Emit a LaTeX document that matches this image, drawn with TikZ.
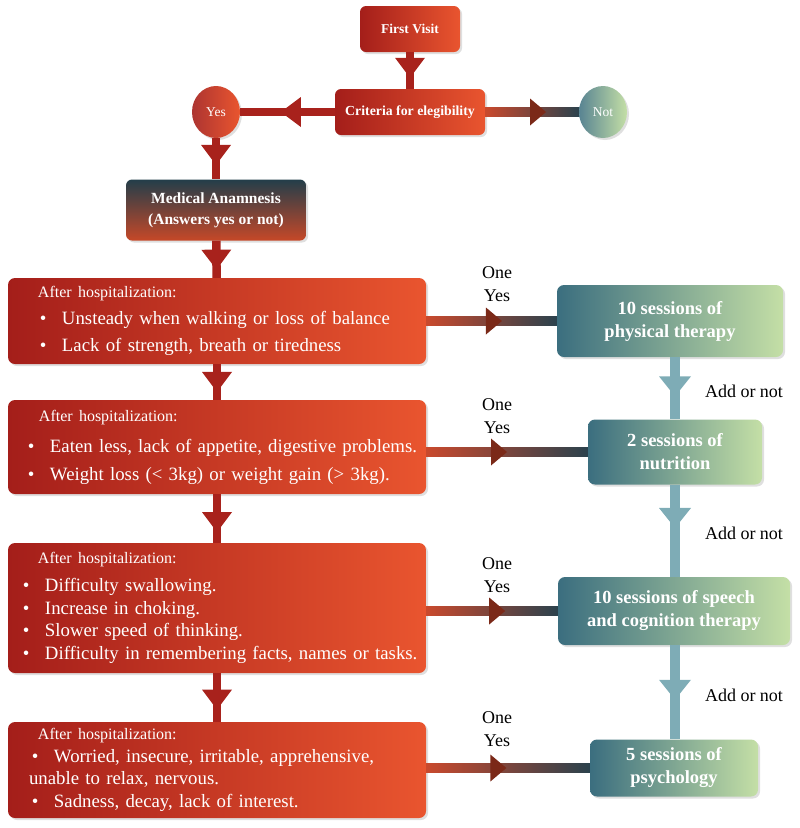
\documentclass[tikz,border=0pt]{standalone}
\usepackage{fontspec}
\setmainfont{Liberation Serif}
\usetikzlibrary{shapes.geometric, arrows.meta, decorations.markings, shadows, calc}

\definecolor{boxred}{HTML}{A41E1A}
\definecolor{boxorange}{HTML}{E9552F}
\definecolor{tealdark}{HTML}{3B6E7F}
\definecolor{teallight}{HTML}{C4DFA6}
\definecolor{slate}{HTML}{233E4A}
\definecolor{arrowred}{HTML}{A8221C}
\definecolor{arrowteal}{HTML}{7EACB6}
\definecolor{arrowbrown}{HTML}{7B2918}
\definecolor{linkred}{HTML}{C9492D}
\definecolor{linkslate}{HTML}{2B424D}

\tikzstyle{redbox} = [rectangle, rounded corners=7pt, left color=boxred, right color=boxorange, text=white, inner xsep=0pt, inner ysep=0pt, align=left, drop shadow={opacity=0.25, shadow xshift=2pt, shadow yshift=-2pt}]
\tikzstyle{title} = [rectangle, rounded corners=6pt, left color=boxred, right color=boxorange, text=white, align=center, font=\bfseries, drop shadow={opacity=0.25, shadow xshift=2pt, shadow yshift=-2pt}]
\tikzstyle{anambox} = [rectangle, rounded corners=6pt, top color=slate, bottom color=boxorange!85!black, text=white, align=center, drop shadow={opacity=0.25, shadow xshift=2pt, shadow yshift=-2pt}]
\tikzstyle{tealbox} = [rectangle, rounded corners=7pt, left color=tealdark, right color=teallight, text=white, align=center, font=\fontsize{18.5}{23}\selectfont\bfseries, drop shadow={opacity=0.25, shadow xshift=2pt, shadow yshift=-2pt}]
\tikzstyle{yesno} = [ellipse, minimum width=48pt, minimum height=52pt, inner sep=0pt, text=white, font=\fontsize{13.5}{16}\selectfont, drop shadow={opacity=0.25, shadow xshift=2pt, shadow yshift=-2pt}]
\tikzstyle{lbl} = [align=center, font=\fontsize{18}{23}\selectfont]

\tikzset{
  redarrow/.style={line width=8.5pt, draw=arrowred, decoration={markings, mark=at position #1 with {\arrow{Triangle[width=30pt, length=20pt, line width=0pt]}}}, postaction=decorate},
  tealarrow/.style={line width=9.5pt, draw=arrowteal, decoration={markings, mark=at position #1 with {\arrow{Triangle[width=32pt, length=20pt, line width=0pt]}}}, postaction=decorate}
}

\newcommand{\hdr}[2]{{\fontsize{16}{19}\selectfont\hspace*{#1}#2}}
\newcommand{\bitem}[2]{\hspace*{#1}\makebox[22pt][l]{\textbullet}#2}
\newcommand{\gradlink}[3]{%
  \shade[left color=linkred, right color=linkslate] ($(#1.east |- #2.west)+(0,-4.25)$) rectangle ($(#2.west)+(0,4.25)$);
  \path[decoration={markings, mark=at position #3 with {\fill[arrowbrown] (0pt,0pt) -- (-16pt,13.5pt) -- (-16pt,-13.5pt) -- cycle;}}, decorate] (#1.east |- #2.west) -- (#2.west);
}

\begin{document}
\begin{tikzpicture}[x=1pt, y=-1pt]

\useasboundingbox (0,0) rectangle (800,828);

\node (visit) [title, minimum width=100pt, minimum height=46pt, font=\fontsize{13.5}{16}\selectfont\bfseries] at (410,29) {First Visit};
\node (crit) [title, minimum width=150pt, minimum height=46pt, font=\fontsize{13.8}{16}\selectfont\bfseries] at (410,112) {Criteria for elegibility};
\node (yes) [yesno, left color=boxred!90!white, right color=boxorange] at (216,112) {Yes};
\node (not) [yesno, left color=tealdark!85!white, right color=teallight] at (603,112) {Not};
\node (anam) [anambox, minimum width=180pt, minimum height=61pt, font=\fontsize{15.5}{21}\selectfont\bfseries] at (216,210) {Medical Anamnesis\\(Answers yes or not)};

\node (hosp1) [redbox, text width=418pt, minimum height=86pt, font=\fontsize{18.8}{27}\selectfont] at (217,321) {%
\hdr{30pt}{After hospitalization:}\\
\bitem{32pt}{Unsteady when walking or loss of balance}\\
\bitem{32pt}{Lack of strength, breath or tiredness}};
\node (hosp2) [redbox, text width=418pt, minimum height=94pt, font=\fontsize{18.8}{28}\selectfont] at (217,447) {%
\hdr{31pt}{After hospitalization:}\\[3pt]
\bitem{20pt}{Eaten less, lack of appetite, digestive problems.}\\
\bitem{20pt}{Weight loss (< 3kg) or weight gain (> 3kg).}};
\node (hosp3) [redbox, text width=418pt, minimum height=130pt, font=\fontsize{18.8}{22.6}\selectfont] at (217,608) {%
\hdr{30pt}{After hospitalization:}\\[5.4pt]
\bitem{15pt}{Difficulty swallowing.}\\
\bitem{15pt}{Increase in choking.}\\
\bitem{15pt}{Slower speed of thinking.}\\
\bitem{15pt}{Difficulty in remembering facts, names or tasks.}};
\node (hosp4) [redbox, text width=418pt, minimum height=96pt, font=\fontsize{18.8}{22.7}\selectfont] at (217,770) {%
\hdr{30pt}{After hospitalization:}\\
\bitem{24pt}{Worried, insecure, irritable, apprehensive,}\\
\hspace*{21pt}unable to relax, nervous.\\
\bitem{24pt}{Sadness, decay, lack of interest.}};

\node (phys) [tealbox, minimum width=226pt, minimum height=72pt] at (670,321) {10 sessions of\\physical therapy};
\node (nutri) [tealbox, minimum width=174pt, minimum height=65pt] at (675,452) {2 sessions of\\nutrition};
\node (speech) [tealbox, minimum width=232pt, minimum height=68pt] at (674,611) {10 sessions of speech\\and cognition therapy};
\node (psych) [tealbox, minimum width=168pt, minimum height=57pt] at (674,768) {5 sessions of\\psychology};

\node (one1) [lbl] at (497,284) {One\\Yes};
\node (one2) [lbl] at (497,416) {One\\Yes};
\node (one3) [lbl] at (497,575) {One\\Yes};
\node (one4) [lbl] at (497,729) {One\\Yes};
\node (add1) [lbl] at (744,391) {Add or not};
\node (add2) [lbl] at (744,533) {Add or not};
\node (add3) [lbl] at (744,695) {Add or not};

\draw [redarrow=0.7] (visit) -- (crit);
\draw [redarrow=0.57] (crit) -- (yes);
\gradlink{crit}{not}{0.65}
\draw [redarrow=0.65] (yes) -- (anam);
\draw [redarrow=0.78] (anam) -- (hosp1);
\draw [redarrow=0.78] (hosp1) -- (hosp2);
\draw [redarrow=0.78] (hosp2) -- (hosp3);
\draw [redarrow=0.75] (hosp3) -- (hosp4);

\gradlink{hosp1}{phys}{0.58}
\gradlink{hosp2}{nutri}{0.5}
\gradlink{hosp3}{speech}{0.6}
\gradlink{hosp4}{psych}{0.49}

\draw [tealarrow=0.63] (phys.south -| nutri.north) -- (nutri.north);
\draw [tealarrow=0.47] (nutri.south) -- (nutri.south |- speech.north);
\draw [tealarrow=0.58] (nutri.south |- speech.south) -- (nutri.south |- psych.north);

\end{tikzpicture}
\end{document}
